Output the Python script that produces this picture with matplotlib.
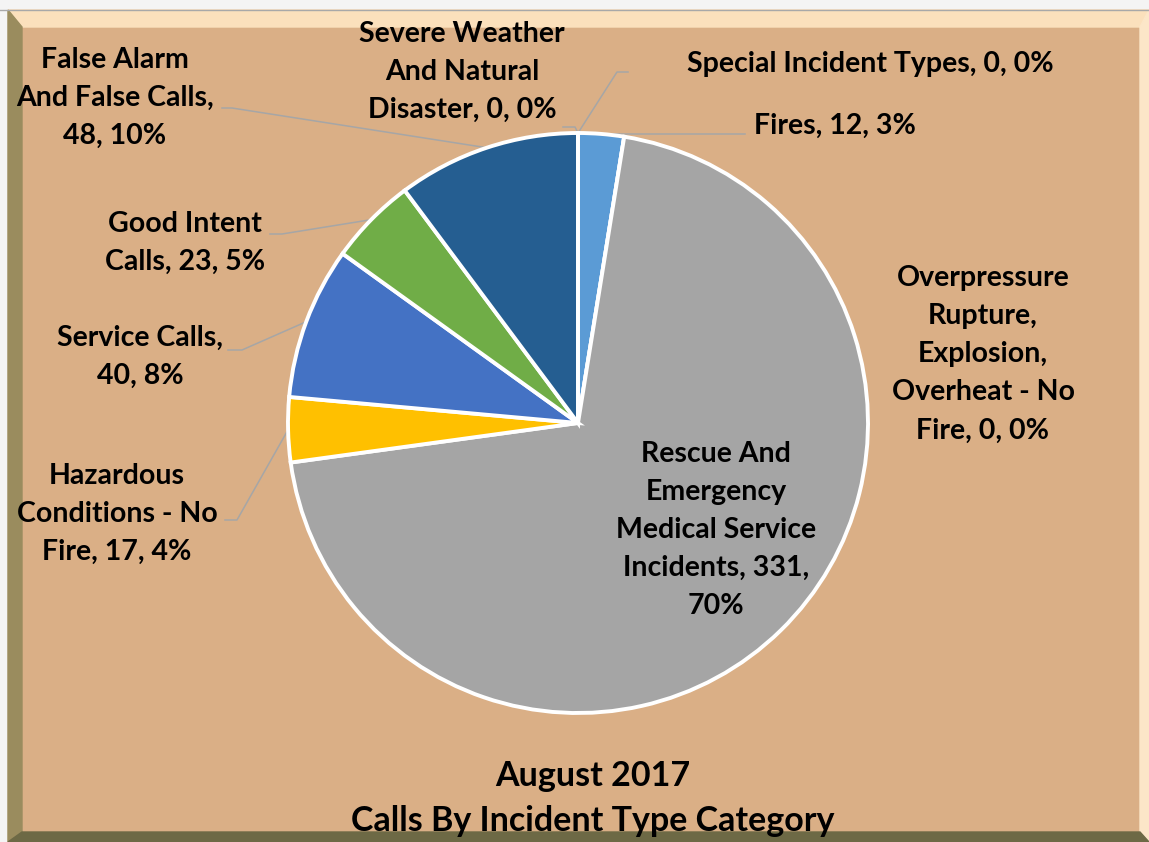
import numpy as np
import matplotlib
matplotlib.use("Agg")
import matplotlib.pyplot as plt
from matplotlib.patches import Polygon, Rectangle

categories = ["Fires", "Overpressure Rupture, Explosion, Overheat - No Fire",
              "Rescue And Emergency Medical Service Incidents", "Hazardous Conditions - No Fire",
              "Service Calls", "Good Intent Calls", "False Alarm And False Calls",
              "Severe Weather And Natural Disaster", "Special Incident Types"]
values = [12, 0, 331, 17, 40, 23, 48, 0, 0]
label_texts = ["Fires, 12, 3%",
               "Overpressure\nRupture,\nExplosion,\nOverheat - No\nFire, 0, 0%",
               "Rescue And\nEmergency\nMedical Service\nIncidents, 331,\n70%",
               "Hazardous\nConditions - No\nFire, 17, 4%",
               "Service Calls,\n40, 8%",
               "Good Intent\nCalls, 23, 5%",
               "False Alarm\nAnd False Calls,\n48, 10%",
               "Severe Weather\nAnd Natural\nDisaster, 0, 0%",
               "Special Incident Types, 0, 0%"]
colors = ["#5B9BD5", "#ED7D31", "#A5A5A5", "#FFC000", "#4472C4", "#70AD47",
          "#255E91", "#9E480E", "#636363"]
title_lines = ["August 2017", "Calls By Incident Type Category"]

W, H = 1149, 842
fig = plt.figure(figsize=(W / 100, H / 100), dpi=100)
fig.patch.set_facecolor("#F4F4F4")

# frame (pixel coordinates, y down)
bg = fig.add_axes([0, 0, 1, 1])
bg.set_xlim(0, W)
bg.set_ylim(H, 0)
bg.axis("off")
x0, y0, x1, y1 = 8, 10, W, H
ix0, iy0, ix1, iy1 = 22, 27, 1140, 832
bg.add_patch(Rectangle((x0, y0), x1 - x0, y1 - y0, color="#DAAF86"))
bg.add_patch(Polygon([(x0, y0), (x1, y0), (ix1, iy0), (ix0, iy0)], color="#FBE0BC"))
bg.add_patch(Polygon([(x1, y0), (x1, y1), (ix1, iy1), (ix1, iy0)], color="#FCE6C8"))
bg.add_patch(Polygon([(x0, y0), (ix0, iy0), (ix0, iy1), (x0, y1)], color="#9A8C5E"))
bg.add_patch(Polygon([(x0, y1), (ix0, iy1), (ix1, iy1), (x1, y1)], color="#6D6945"))
bg.plot([0, W], [y0, y0], color="#A8A8A8", lw=1)

# pie axes
cx, cy, R = 578, 423, 290
ax = fig.add_axes([(cx - R) / W, (H - cy - R) / H, 2 * R / W, 2 * R / H])
wedges, _ = ax.pie(values, colors=colors, startangle=90, counterclock=False, radius=1,
                   wedgeprops=dict(edgecolor="white", linewidth=2.8))
ax.set_xlim(-1, 1)
ax.set_ylim(-1, 1)
ax.set_aspect("auto")
ax.axis("off")

font = dict(family=["Lato", "DejaVu Sans"], fontweight="bold", fontsize=20.5, color="black")

def px2d(px, py):
    return (px - cx) / R, (cy - py) / R

# label centre positions (pixels) and leader style
label_pos = [(835, 126), (983, 354), (716, 530), (117, 514), (140, 357),
             (185, 243), (115, 98), (462, 72), (870, 64)]
leaders = [((745, 133), None), None, None,
           ((225, 520), (237, 520)), ((228, 350), (242, 350)),
           ((270, 234), (282, 234)), ((222, 108), (232, 108)),
           ((563, 127), (575, 127)), ((628, 72), (617, 72))]

for i, w in enumerate(wedges):
    lx, ly = px2d(*label_pos[i])
    ax.text(lx, ly, label_texts[i], ha="center", va="center", linespacing=1.58,
            clip_on=False, **font)
    ld = leaders[i]
    if ld is None:
        continue
    mid = np.deg2rad((w.theta1 + w.theta2) / 2)
    ex, ey = np.cos(mid), np.sin(mid)
    start, elbow = ld
    sx, sy = px2d(*start)
    if elbow is None:
        ax.plot([sx, ex], [ey, ey], color="#A6A6A6", lw=1.1, zorder=0.5, clip_on=False)
    else:
        bx, by = px2d(*elbow)
        ax.plot([sx, bx, ex], [sy, by, ey], color="#A6A6A6", lw=1.1, zorder=0.5, clip_on=False)

bg.text(593, 776, title_lines[0], ha="center", va="center", **{**font, "fontsize": 24.5})
bg.text(593, 821, title_lines[1], ha="center", va="center", **{**font, "fontsize": 24.5})

fig.savefig("out.png", dpi=100, facecolor=fig.get_facecolor())
